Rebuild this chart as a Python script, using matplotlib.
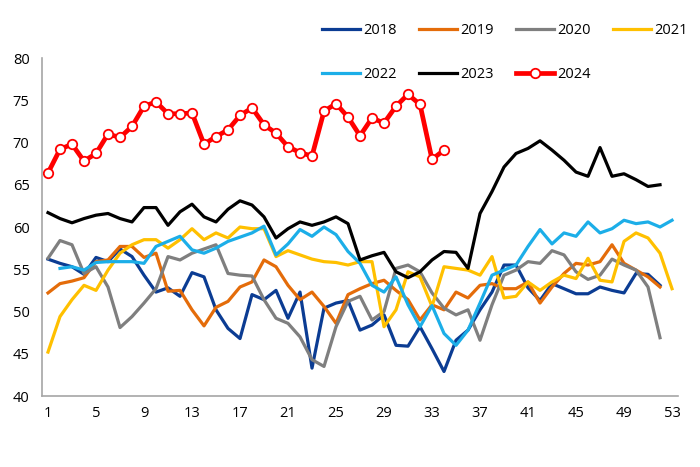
import numpy as np
import matplotlib
matplotlib.use("Agg")
import matplotlib.pyplot as plt

plt.rcParams['font.family'] = ['Open Sans', 'DejaVu Sans']

# weekly index values, week 1..n
y2018 = [56.2, 55.7, 55.3, 54.4, 56.4, 55.9, 57.4, 56.5, 54.3, 52.3, 52.8, 51.8, 54.6,
         54.1, 50.2, 48.0, 46.8, 52.0, 51.4, 52.5, 49.2, 52.3, 43.3, 50.4, 51.0, 51.3,
         47.8, 48.4, 49.6, 46.0, 45.9, 48.2, 45.6, 42.9, 46.6, 47.8, 50.2, 52.3, 55.5,
         55.5, 52.8, 51.3, 53.3, 52.7, 52.1, 52.1, 52.9, 52.5, 52.2, 54.5, 54.4, 53.1]
y2019 = [52.2, 53.3, 53.6, 54.0, 55.9, 56.1, 57.7, 57.7, 56.4, 56.9, 52.4, 52.5, 50.2,
         48.3, 50.5, 51.2, 52.9, 53.5, 56.1, 55.3, 53.1, 51.4, 52.3, 50.6, 48.6, 52.0,
         52.7, 53.3, 53.7, 52.5, 51.4, 49.0, 50.8, 50.2, 52.3, 51.6, 53.1, 53.3, 52.7,
         52.7, 53.5, 51.0, 52.9, 54.5, 55.7, 55.5, 55.9, 57.9, 55.7, 54.9, 54.1, 52.9]
y2020 = [56.3, 58.4, 57.9, 54.5, 55.3, 52.9, 48.1, 49.4, 51.0, 52.7, 56.5, 56.1, 56.9,
         57.4, 57.9, 54.5, 54.3, 54.2, 51.4, 49.2, 48.6, 47.0, 44.3, 43.5, 48.2, 51.2,
         51.8, 49.0, 50.0, 55.1, 55.5, 54.7, 52.2, 50.4, 49.6, 50.2, 46.6, 50.8, 54.3,
         54.9, 55.9, 55.7, 57.2, 56.7, 54.7, 53.8, 54.3, 56.2, 55.5, 54.9, 52.9, 46.9]
y2021 = [45.2, 49.4, 51.4, 53.1, 52.5, 54.9, 56.9, 57.9, 58.5, 58.5, 57.5, 58.5, 59.8,
         58.5, 59.3, 58.7, 60.0, 59.8, 59.8, 56.5, 57.2, 56.7, 56.2, 55.9, 55.8, 55.5,
         55.9, 55.9, 48.2, 50.2, 54.7, 54.1, 50.6, 55.3, 55.1, 54.9, 54.3, 56.5, 51.6,
         51.8, 53.5, 52.5, 53.5, 54.3, 53.9, 56.3, 53.7, 53.5, 58.3, 59.3, 58.7, 56.9, 52.7]
y2022 = [np.nan, 55.1, 55.3, 54.9, 55.8, 55.9, 55.9, 55.9, 55.7, 57.7, 58.3, 58.9, 57.3,
         56.9, 57.5, 58.3, 58.8, 59.3, 60.1, 56.7, 58.0, 59.7, 58.9, 60.0, 59.1, 57.1,
         55.7, 53.1, 52.3, 54.1, 50.8, 48.2, 50.7, 47.4, 46.0, 47.8, 51.0, 54.3, 54.9,
         55.5, 57.7, 59.7, 58.0, 59.3, 58.9, 60.6, 59.3, 59.8, 60.8, 60.4, 60.6, 60.0, 60.8]
y2023 = [61.7, 61.0, 60.5, 61.0, 61.4, 61.6, 61.0, 60.6, 62.3, 62.3, 60.2, 61.8, 62.7,
         61.2, 60.6, 62.1, 63.1, 62.6, 61.2, 58.7, 59.8, 60.6, 60.2, 60.6, 61.2, 60.4,
         56.1, 56.6, 57.0, 54.7, 54.0, 54.7, 56.1, 57.1, 57.0, 55.1, 61.6, 64.2, 67.1,
         68.7, 69.3, 70.2, 69.1, 67.9, 66.5, 66.0, 69.4, 66.0, 66.3, 65.6, 64.8, 65.0]
y2024 = [66.4, 69.2, 69.8, 67.8, 68.7, 71.0, 70.6, 71.9, 74.3, 74.8, 73.4, 73.4, 73.5,
         69.8, 70.7, 71.5, 73.2, 74.1, 72.1, 71.1, 69.5, 68.8, 68.4, 73.7, 74.6, 73.0,
         70.8, 72.9, 72.3, 74.3, 75.7, 74.5, 68.0, 69.1]

years = ["2018", "2019", "2020", "2021", "2022", "2023", "2024"]
series = [y2018, y2019, y2020, y2021, y2022, y2023, y2024]
colors = ["#0B3C93", "#E46C0A", "#7F7F7F", "#FFC000", "#1CAEE8", "#000000", "#FF0000"]
xticks = list(range(1, 54, 4))

fig = plt.figure(figsize=(7, 4.67), dpi=100)
ax = fig.add_axes([0.06, 0.152, 0.9086, 0.7238])

handles = {}
for yr, vals, c in zip(years, series, colors):
    wk = np.arange(1, len(vals) + 1)
    if yr == "2024":
        h, = ax.plot(wk, vals, color=c, lw=3.4, marker="o", ms=6.8,
                     mfc="white", mec=c, mew=1.3, label=yr)
    else:
        h, = ax.plot(wk, vals, color=c, lw=2.3, label=yr)
    handles[yr] = h

ax.set_xlim(0.5, 53.5)
ax.set_ylim(40, 80)
ax.set_xticks(xticks)
ax.set_yticks(range(40, 81, 5))
ax.tick_params(length=0, labelsize=10.5, colors="#000000")
ax.tick_params(axis="y", pad=9)
ax.tick_params(axis="x", pad=7)
for s in ["top", "right"]:
    ax.spines[s].set_visible(False)
for s in ["left", "bottom"]:
    ax.spines[s].set_color("#A6A6A6")
    ax.spines[s].set_linewidth(1.2)

# row-major legend order with 4 columns
order = ["2018", "2022", "2019", "2023", "2020", "2024", "2021"]
fig.legend([handles[k] for k in order], order, ncol=4, loc="upper left",
           bbox_to_anchor=(0.46, 0.95), frameon=False, fontsize=10.5,
           handlelength=2.6, handletextpad=0.25, columnspacing=1.5,
           labelspacing=1.95, borderaxespad=0, borderpad=0)

fig.savefig("out.png", dpi=100)
